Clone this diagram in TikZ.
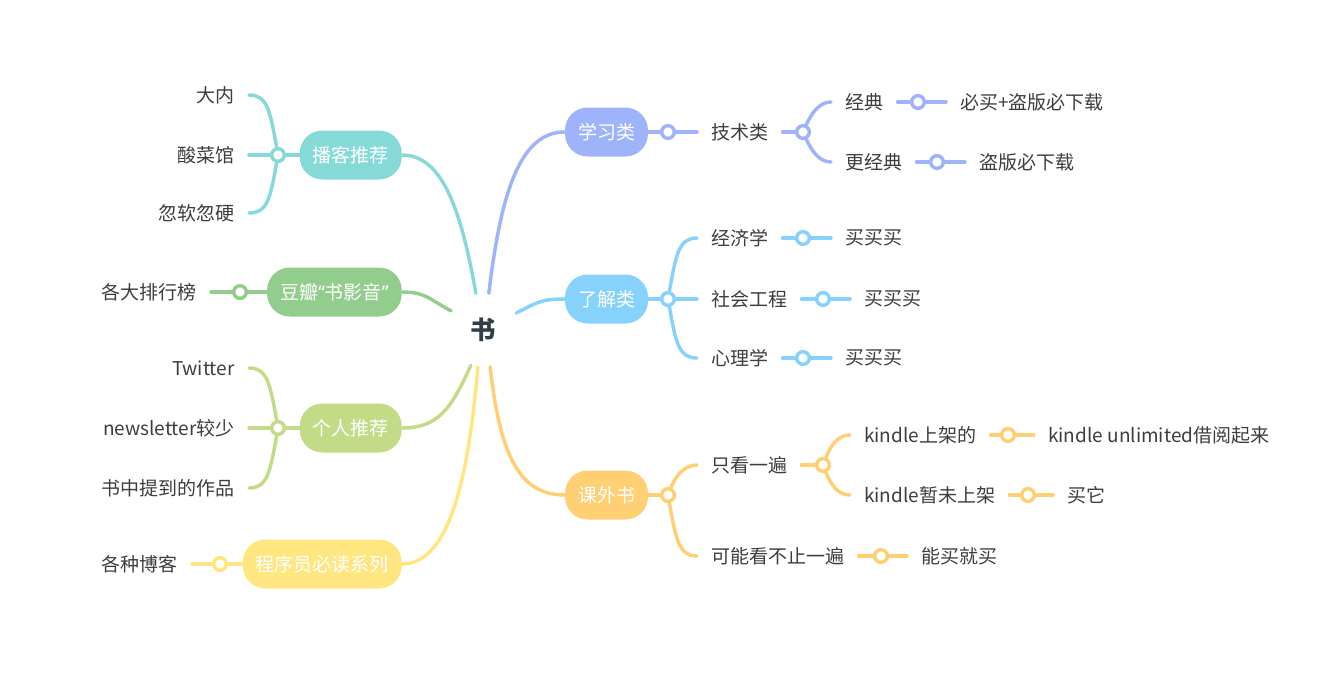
\documentclass[tikz,border=0pt]{standalone}
\usepackage{fontspec}
\setmainfont{Noto Sans CJK SC}
\newfontfamily\quotefont{Noto Sans}
\usepackage{tikz}
\usetikzlibrary{positioning}
\definecolor{inkgray}{HTML}{3D3D3D}
\definecolor{rootgray}{HTML}{333D47}
\definecolor{studyblue}{HTML}{9FB3FB}
\definecolor{knowblue}{HTML}{86D2FD}
\definecolor{extraorange}{HTML}{FFD073}
\definecolor{podteal}{HTML}{85D9D7}
\definecolor{doubangreen}{HTML}{93CD8D}
\definecolor{selfgreen}{HTML}{C3DA86}
\definecolor{coderyellow}{HTML}{FFE680}
\tikzset{
  stem/.style={line width=2.6pt, line cap=round},
  pill/.style={fill=#1, rounded corners=17pt, minimum height=36.75pt, inner xsep=9.75pt, text=white, font=\fontsize{14.25pt}{17pt}\selectfont},
  knob/.style={circle, draw=#1, fill=white, line width=2.6pt, minimum size=9.5pt, inner sep=0pt},
  word/.style={inner xsep=10.5pt, text=inkgray, font=\fontsize{14.25pt}{17pt}\selectfont}
}

\begin{document}
\begin{tikzpicture}[x=0.75pt, y=-0.75pt]
  \useasboundingbox (0,0) rectangle (1337,672);
  % centre
  \node[circle, minimum size=55.5pt, inner sep=0pt, text=rootgray, font=\fontsize{19pt}{22pt}\selectfont\bfseries] (root) at (483,330) {书};

  % main topics
  \node[pill=studyblue] (study) at (606.5,132) {学习类};
  \node[pill=knowblue] (know) at (606.5,299) {了解类};
  \node[pill=extraorange] (extra) at (606.5,495) {课外书};
  \node[pill=podteal, anchor=east] (podcast) at (402,155) {播客推荐};
  \node[pill=doubangreen, anchor=east] (douban) at (402,292) {豆瓣{\quotefont“}书影音{\quotefont”}};
  \node[pill=selfgreen, anchor=east] (personal) at (402,428) {个人推荐};
  \node[pill=coderyellow, anchor=east] (coder) at (402,564) {程序员必读系列};

  \draw[stem, studyblue] (root.81) .. controls +(12,-100) and +(-45,0) .. (study.west);
  \draw[stem, knowblue] (root.27) .. controls +(20,-10) and +(-25,0) .. (know.west);
  \draw[stem, extraorange] (root.281) .. controls +(10,90) and +(-45,0) .. (extra.west);
  \draw[stem, podteal] (root.101) .. controls +(-15,-85) and +(40,0) .. (podcast.east);
  \draw[stem, doubangreen] (root.149) .. controls +(-20,-10) and +(25,0) .. (douban.east);
  \draw[stem, selfgreen] (root.251) .. controls +(-20,45) and +(35,0) .. (personal.east);
  \draw[stem, coderyellow] (root.262) .. controls +(-10,120) and +(45,0) .. (coder.east);

  % 学习类
  \node[knob=studyblue] (studyknob) at (668,132) {};
  \node[word, anchor=west] (tech) at (697,132) {技术类};
  \node[knob=studyblue] (techknob) at (803,132) {};
  \node[word, anchor=west] (classic) at (831,102) {经典};
  \node[knob=studyblue] (classicknob) at (918,102) {};
  \node[word, anchor=west] (mustbuy) at (946,102) {必买+盗版必下载};
  \node[word, anchor=west] (moreclassic) at (831,162) {更经典};
  \node[knob=studyblue] (moreknob) at (937,162) {};
  \node[word, anchor=west] (pirate) at (965,162) {盗版必下载};
  \draw[stem, studyblue] (study) -- (studyknob);
  \draw[stem, studyblue] (studyknob) -- (tech.west);
  \draw[stem, studyblue] (tech) -- (techknob);
  \draw[stem, studyblue] (techknob) .. controls +(10,-22) and +(-10,0) .. (classic.west);
  \draw[stem, studyblue] (techknob) .. controls +(10,22) and +(-10,0) .. (moreclassic.west);
  \draw[stem, studyblue] (classic) -- (classicknob);
  \draw[stem, studyblue] (classicknob) -- (mustbuy.west);
  \draw[stem, studyblue] (moreclassic) -- (moreknob);
  \draw[stem, studyblue] (moreknob) -- (pirate.west);

  % 了解类
  \node[knob=knowblue] (knowknob) at (668,299) {};
  \node[word, anchor=west] (econ) at (697,238) {经济学};
  \node[word, anchor=west] (social) at (697,299) {社会工程};
  \node[word, anchor=west] (psych) at (697,358) {心理学};
  \node[knob=knowblue] (econknob) at (803,238) {};
  \node[knob=knowblue] (socialknob) at (823,299) {};
  \node[knob=knowblue] (psychknob) at (803,358) {};
  \node[word, anchor=west] (buyA) at (831,238) {买买买};
  \node[word, anchor=west] (buyB) at (850,299) {买买买};
  \node[word, anchor=west] (buyC) at (831,358) {买买买};
  \draw[stem, knowblue] (know) -- (knowknob);
  \draw[stem, knowblue] (knowknob) .. controls +(8,-45) and +(-18,0) .. (econ.west);
  \draw[stem, knowblue] (knowknob) -- (social.west);
  \draw[stem, knowblue] (knowknob) .. controls +(8,45) and +(-18,0) .. (psych.west);
  \foreach \a/\b in {econ/buyA, social/buyB, psych/buyC}{
    \draw[stem, knowblue] (\a) -- (\a knob);
    \draw[stem, knowblue] (\a knob) -- (\b.west);
  }

  % 课外书
  \node[knob=extraorange] (extraknob) at (668,495) {};
  \node[word, anchor=west] (once) at (697,465) {只看一遍};
  \node[knob=extraorange] (onceknob) at (823,465) {};
  \node[word, anchor=west] (kup) at (850,435) {kindle上架的};
  \node[knob=extraorange] (kupknob) at (1008,435) {};
  \node[word, anchor=west] (kborrow) at (1034,435) {kindle unlimited借阅起来};
  \node[word, anchor=west] (knot) at (850,495) {kindle暂未上架};
  \node[knob=extraorange] (knotknob) at (1028,495) {};
  \node[word, anchor=west] (buyit) at (1053,495) {买它};
  \node[word, anchor=west] (multi) at (697,556) {可能看不止一遍};
  \node[knob=extraorange] (multiknob) at (881,556) {};
  \node[word, anchor=west] (canbuy) at (907,556) {能买就买};
  \draw[stem, extraorange] (extra) -- (extraknob);
  \draw[stem, extraorange] (extraknob) .. controls +(8,-20) and +(-12,0) .. (once.west);
  \draw[stem, extraorange] (extraknob) .. controls +(8,45) and +(-18,0) .. (multi.west);
  \draw[stem, extraorange] (once) -- (onceknob);
  \draw[stem, extraorange] (onceknob) .. controls +(8,-20) and +(-12,0) .. (kup.west);
  \draw[stem, extraorange] (onceknob) .. controls +(8,20) and +(-12,0) .. (knot.west);
  \draw[stem, extraorange] (kup) -- (kupknob);
  \draw[stem, extraorange] (kupknob) -- (kborrow.west);
  \draw[stem, extraorange] (knot) -- (knotknob);
  \draw[stem, extraorange] (knotknob) -- (buyit.west);
  \draw[stem, extraorange] (multi) -- (multiknob);
  \draw[stem, extraorange] (multiknob) -- (canbuy.west);

  % 播客推荐
  \node[knob=podteal] (podknob) at (278,155) {};
  \node[word, anchor=east] (danei) at (249,95) {大内};
  \node[word, anchor=east] (suancai) at (249,155) {酸菜馆};
  \node[word, anchor=east] (ruanying) at (249,213) {忽软忽硬};
  \draw[stem, podteal] (podcast) -- (podknob);
  \draw[stem, podteal] (podknob) .. controls +(-8,-45) and +(18,0) .. (danei.east);
  \draw[stem, podteal] (podknob) -- (suancai.east);
  \draw[stem, podteal] (podknob) .. controls +(-8,45) and +(18,0) .. (ruanying.east);

  % 豆瓣
  \node[knob=doubangreen] (doubanknob) at (240,292) {};
  \node[word, anchor=east] (ranks) at (211,292) {各大排行榜};
  \draw[stem, doubangreen] (douban) -- (doubanknob);
  \draw[stem, doubangreen] (doubanknob) -- (ranks.east);

  % 个人推荐
  \node[knob=selfgreen] (personalknob) at (278,428) {};
  \node[word, anchor=east] (twitter) at (249,368) {Twitter};
  \node[word, anchor=east] (newsletter) at (249,428) {newsletter较少};
  \node[word, anchor=east] (mentioned) at (249,488) {书中提到的作品};
  \draw[stem, selfgreen] (personal) -- (personalknob);
  \draw[stem, selfgreen] (personalknob) .. controls +(-8,-45) and +(18,0) .. (twitter.east);
  \draw[stem, selfgreen] (personalknob) -- (newsletter.east);
  \draw[stem, selfgreen] (personalknob) .. controls +(-8,45) and +(18,0) .. (mentioned.east);

  % 程序员必读系列
  \node[knob=coderyellow] (coderknob) at (220,564) {};
  \node[word, anchor=east] (blogs) at (192,564) {各种博客};
  \draw[stem, coderyellow] (coder) -- (coderknob);
  \draw[stem, coderyellow] (coderknob) -- (blogs.east);
\end{tikzpicture}
\end{document}
